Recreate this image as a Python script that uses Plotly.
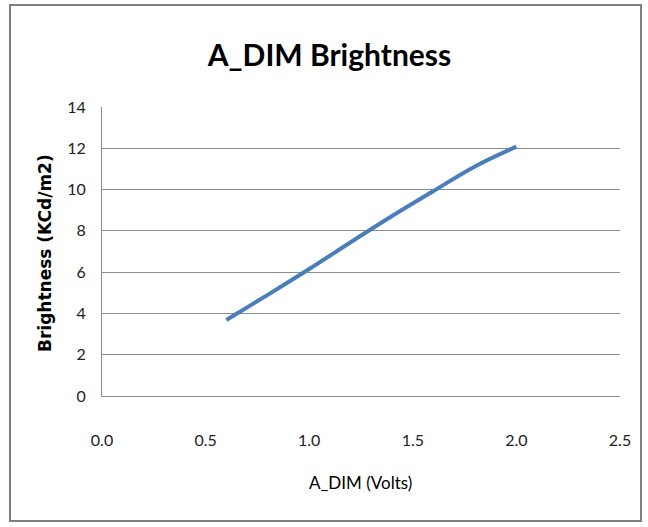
import plotly.graph_objects as go

volts = [0.6, 0.8, 1.0, 1.2, 1.4, 1.6, 1.8, 2.0]
brightness = [3.68, 4.9, 6.15, 7.45, 8.72, 9.93, 11.12, 12.08]
x_ticks = [0.0, 0.5, 1.0, 1.5, 2.0, 2.5]
x_tick_labels = ["0.0", "0.5", "1.0", "1.5", "2.0", "2.5"]
y_ticks = [0, 2, 4, 6, 8, 10, 12, 14]

W, H = 648, 527
L, R, T, B = 102, 620, 107, 396

fig = go.Figure()
fig.add_trace(go.Scatter(x=volts, y=brightness, mode="lines",
                         line=dict(color="#4a7ebb", width=4, shape="spline", smoothing=1.0),
                         showlegend=False, hoverinfo="skip"))

tickfont = dict(family="Lato, sans-serif", size=16, color="#222")

fig.update_layout(
    width=W, height=H,
    margin=dict(l=L, r=W - R, t=T, b=H - B, pad=0),
    paper_bgcolor="white", plot_bgcolor="white",
    title=dict(text="<b>A_DIM Brightness</b>", xref="container", yref="container",
               x=329.5 / W, y=1 - 55 / H, xanchor="center", yanchor="middle",
               font=dict(family="Lato, sans-serif", size=30, color="black")),
    xaxis=dict(range=[0, 2.5], tickvals=x_ticks, ticktext=x_tick_labels, showgrid=False,
               zeroline=False, showline=True, linecolor="#8c8c8c", linewidth=1,
               tickfont=tickfont, ticks="", ticklen=0, ticklabelstandoff=30),
    yaxis=dict(range=[0, 14], tickvals=y_ticks, showgrid=True, gridcolor="#8c8c8c", gridwidth=1,
               zeroline=False, showline=True, linecolor="#8c8c8c", linewidth=1,
               tickfont=tickfont, ticks="", ticklen=0, ticklabelstandoff=12),
)

pw, ph = R - L, B - T
def px(xp):
    return (xp - L) / pw
def py(yp):
    return (B - yp) / ph

fig.add_annotation(text="A_DIM (Volts)", xref="paper", yref="paper", x=px(360), y=py(482),
                   xanchor="center", yanchor="middle", showarrow=False,
                   font=dict(family="Lato, sans-serif", size=17, color="black"))
fig.add_annotation(text="<b>Brightness (KCd/m2)</b>", xref="paper", yref="paper", x=px(45), y=py(253),
                   xanchor="center", yanchor="middle", showarrow=False, textangle=-90,
                   font=dict(family="DejaVu Sans, sans-serif", size=17, color="black"))

fig.add_shape(type="rect", xref="paper", yref="paper",
              x0=px(10), x1=px(641), y0=py(521), y1=py(5),
              line=dict(color="#7f7f7f", width=2), fillcolor="rgba(0,0,0,0)", layer="below")

fig.write_html("out.html", config={"displayModeBar": False},
               post_script="document.body.style.margin='0';document.body.style.overflow='hidden';")
